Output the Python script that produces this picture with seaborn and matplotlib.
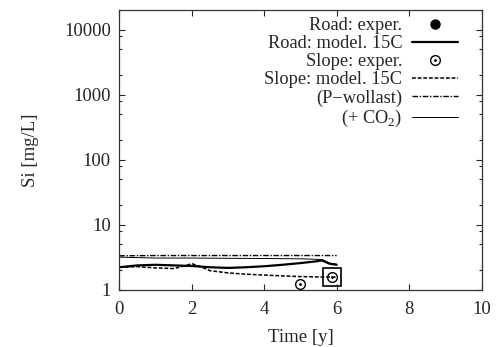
import matplotlib
matplotlib.use("Agg")
import matplotlib.pyplot as plt
import matplotlib.ticker as mticker
from matplotlib.legend_handler import HandlerTuple
import seaborn as sns
import pandas as pd
import numpy as np

sns.set_theme(style="ticks")
plt.rcParams['font.family'] = ['Liberation Serif', 'DejaVu Serif']
plt.rcParams['mathtext.fontset'] = 'custom'
plt.rcParams['mathtext.rm'] = 'Liberation Serif'

# Data
road_exp_t = []
road_exp_si = []

road_model_t = [0.0, 0.5, 1.0, 1.5, 2.0, 2.5, 3.0, 3.5, 4.0, 4.5, 5.0, 5.4, 5.6, 5.8, 6.0]
road_model_si = [2.2, 2.35, 2.4, 2.35, 2.3, 2.2, 2.15, 2.2, 2.28, 2.4, 2.55, 2.7, 2.8, 2.5, 2.4]

slope_exp_t = [5.0, 5.87]
slope_exp_si = [1.2, 1.55]

slope_model_t = [0.0, 0.5, 1.0, 1.5, 1.8, 2.0, 2.2, 2.5, 3.0, 3.5, 4.0, 4.5, 5.0, 5.5, 6.0]
slope_model_si = [2.2, 2.25, 2.15, 2.1, 2.3, 2.5, 2.3, 1.95, 1.8, 1.72, 1.67, 1.62, 1.58, 1.56, 1.55]

wollast_t = [0.0, 1.0, 2.0, 3.0, 4.0, 5.0, 6.0]
wollast_si = [3.3, 3.33, 3.33, 3.33, 3.33, 3.33, 3.33]

co2_t = [0.0, 1.0, 2.0, 3.0, 4.0, 5.0, 5.6, 5.8, 6.0]
co2_si = [3.15, 3.05, 3.05, 3.02, 3.0, 2.97, 2.9, 2.55, 2.45]

highlight_t = [5.87]
highlight_si = [1.55]

fig = plt.figure(figsize=(4.96, 3.47), dpi=100)
ax = fig.add_axes([0.2405, 0.1657, 0.7303, 0.8053])

ax.plot(road_exp_t, road_exp_si, linestyle='none', marker='o', ms=6.5,
        color='black', label='Road: exper.')
sns.lineplot(x=road_model_t, y=road_model_si, ax=ax, color='black', lw=1.6,
             label='Road: model. 15C', sort=False)
h_circ, = ax.plot(slope_exp_t, slope_exp_si, linestyle='none', marker='o', ms=7,
                  mfc='white', mec='black', mew=1.0, label='Slope: exper.')
h_dot, = ax.plot(slope_exp_t, slope_exp_si, linestyle='none', marker='.', ms=2,
                 color='black')
sns.lineplot(x=slope_model_t, y=slope_model_si, ax=ax, color='black', lw=1.1,
             linestyle=(0, (2.5, 1.2)), label='Slope: model. 15C', sort=False)
sns.lineplot(x=wollast_t, y=wollast_si, ax=ax, color='black', lw=1.0,
             linestyle=(0, (4, 1.2, 1, 1.2)), label='(P\u2212wollast)', sort=False)
sns.lineplot(x=co2_t, y=co2_si, ax=ax, color='black', lw=0.7,
             label='(+ CO$_2$)', sort=False)
ax.plot(highlight_t, highlight_si, linestyle='none', marker='s', ms=13,
        mfc='none', mec='black', mew=1.2)

ax.set_yscale('log')
ax.set_xlim(0, 10)
ax.set_ylim(1, 20000)
ax.set_xticks([0, 2, 4, 6, 8, 10])
ax.yaxis.set_major_locator(mticker.FixedLocator([1, 10, 100, 1000, 10000]))
ax.yaxis.set_major_formatter(mticker.FixedFormatter(['1', '10', '100', '1000', '10000']))
ax.yaxis.set_minor_locator(mticker.LogLocator(base=10, subs=(2, 5, 8)))
ax.yaxis.set_minor_formatter(mticker.NullFormatter())
ax.tick_params(which='major', direction='in', length=4, width=0.8, labelsize=13.5,
               top=True, right=True, pad=6)
ax.tick_params(axis='x', which='major', pad=8.5)
ax.tick_params(which='minor', direction='in', length=2, width=0.8, right=True)
for s in ax.spines.values():
    s.set_linewidth(0.9)
    s.set_color('#333333')

ax.set_xlabel('Time [y]', fontsize=13.5, labelpad=8)
ax.set_ylabel('Si [mg/L]', fontsize=13.5, labelpad=18)

handles, labels = ax.get_legend_handles_labels()
handles = [(h_circ, h_dot) if h is h_circ else h for h in handles]

leg = ax.legend(handles, labels, loc='upper right', bbox_to_anchor=(0.9455, 0.988),
                frameon=False, markerfirst=False, fontsize=13.2,
                handlelength=2.5, handletextpad=0.55, labelspacing=0.06,
                borderaxespad=0.0, borderpad=0.2,
                handler_map={tuple: HandlerTuple(ndivide=1, pad=0)})
for t in leg.get_texts():
    t.set_ha('right')
leg._legend_box.align = 'right'

fig.savefig('out.png', dpi=100)
